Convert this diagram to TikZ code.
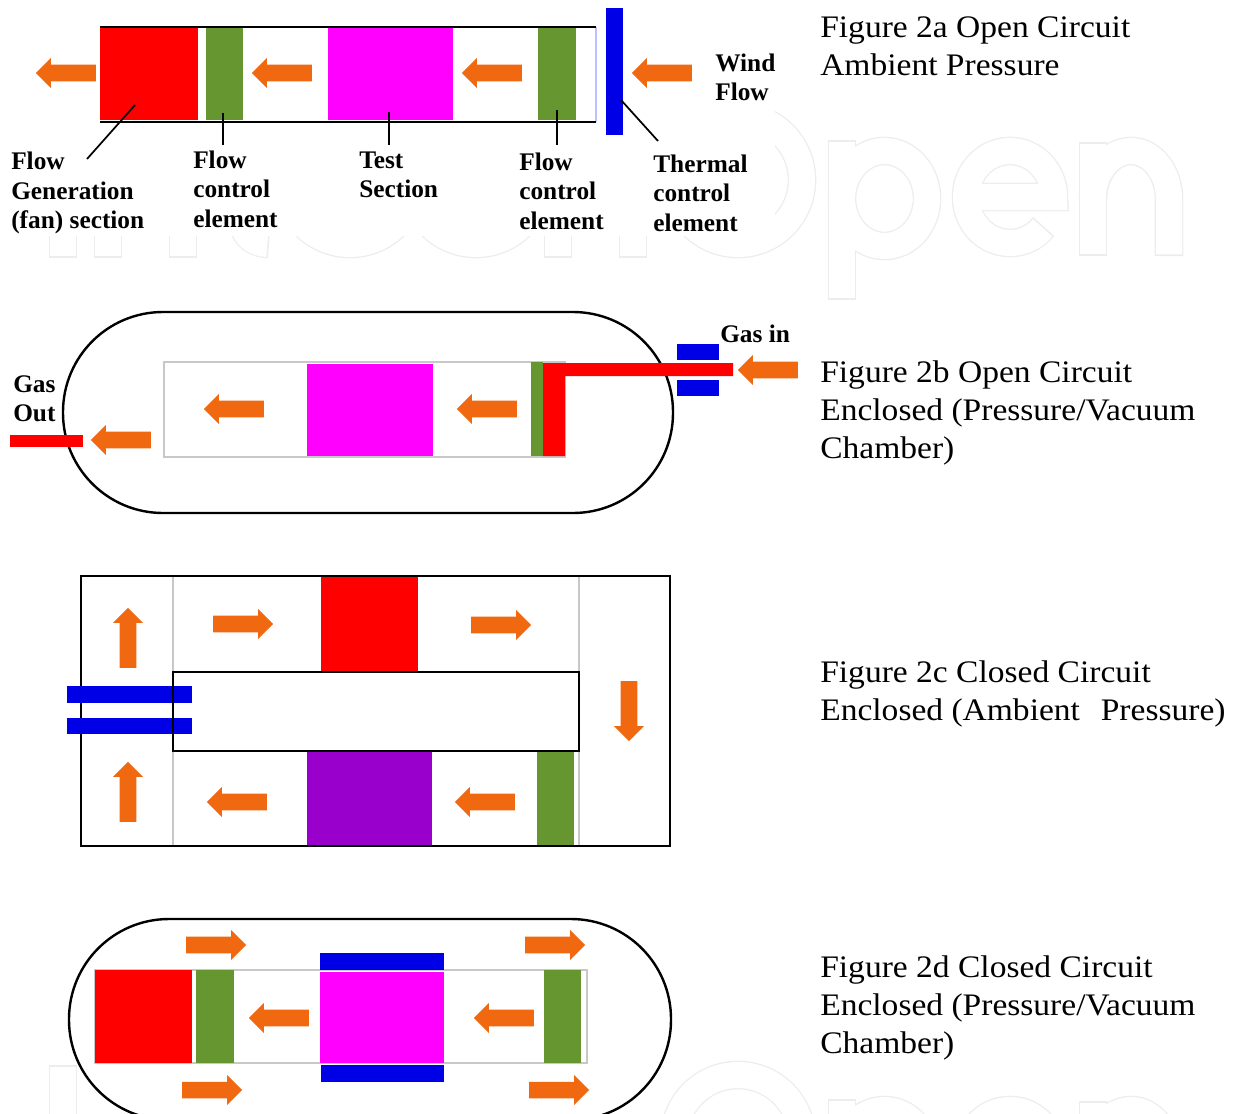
\documentclass[tikz,border=0pt]{standalone}
\usepackage{fontspec}
\setmainfont{Liberation Serif}
\newfontfamily\captionfont[FakeStretch=1.07]{Liberation Serif}
\usetikzlibrary{shapes.arrows}

\definecolor{flowcolor}{HTML}{F0680F}
\definecolor{greenblock}{HTML}{66962F}
\definecolor{blueblock}{HTML}{0000E6}
\definecolor{purpleblock}{HTML}{9900CC}
\definecolor{magentablock}{HTML}{FF00FF}
\definecolor{thinline}{HTML}{C8C8C8}
\definecolor{markcolor}{HTML}{EDEDED}

\tikzset{
    flow/.style={single arrow, fill=flowcolor, inner xsep=0pt, inner ysep=6pt, minimum height=45pt,
        minimum width=22pt, single arrow head extend=5pt, single arrow tip angle=90},
    flowleft/.style={flow, xshift=3pt, rotate=180},
    flowright/.style={flow, xshift=-3pt},
    flowup/.style={flow, yshift=-3pt, rotate=90},
    flowdown/.style={flow, yshift=3pt, rotate=-90},
    part/.style={font=\fontsize{19}{22}\selectfont\bfseries, align=left, anchor=west, inner sep=0pt},
    caption/.style={font=\captionfont\fontsize{23.5}{28.5}\selectfont, align=left, anchor=west, inner sep=0pt},
    wall/.style={black, line width=1.8pt},
    thin wall/.style={thinline, line width=1pt},
}

% one pass of the faint letters, shifted down by #1
\newcommand{\letterpass}[1]{
    \draw (63,258+#1) -- (63,106+#1);
    \draw (738,180+#1) circle (64);
    \draw (842,300+#1) -- (842,140+#1);
    \draw (884.5,198.5+#1) ellipse (42.5 and 47.5);
    \draw (966,197+#1) -- (1054,197+#1) arc (0:-180:44 and 46) arc (-180:-320:44 and 46);
    \draw (1093,256+#1) -- (1093,142+#1);
    \draw (1093,199+#1) arc (180:360:38 and 48) -- (1169,256+#1);
}
% the lower ends of the letters under the first panel
\newcommand{\letterends}{
    \draw (108,220) -- (108,258);
    \draw (183,220) -- (183,258);
    \draw (244,220) -- (244,225) arc (180:90:25 and 19);
    \draw (558,220) -- (558,258);
    \draw (633,220) -- (633,258);
    \draw (350,180) circle (64);
    \draw (476,180) circle (64);
}

\begin{document}
\begin{tikzpicture}[x=0.75pt, y=-0.75pt]
    \useasboundingbox (0,0) rectangle (1237,1113);
    \clip (0,0) rectangle (1237,1113);

    % watermark behind everything
    \begin{scope}[line width=21.5pt, markcolor]
        \letterpass{0}
        \letterpass{959}
        \letterends
    \end{scope}
    \begin{scope}[line width=19.5pt, white, shorten >=1.2pt, shorten <=1.2pt]
        \letterpass{0}
        \letterpass{959}
        \letterends
    \end{scope}
    \fill[white] (0,0) rectangle (775,236);

    % open circuit, ambient
    \fill[red] (100,28) rectangle (198,120);
    \fill[greenblock] (206,28) rectangle (243,120);
    \fill[magentablock] (328,28) rectangle (453,120);
    \fill[greenblock] (538,28) rectangle (576,120);
    \draw[thin wall, blue!25] (596,27) -- (596,122);
    \draw[wall] (100,27) -- (596,27);
    \draw[wall] (100,122) -- (596,122);
    \fill[blueblock] (606,8) rectangle (623,135);

    \node[flowleft] (arrowA) at (66,73) {};
    \node[flowleft] (arrowB) at (282,73) {};
    \node[flowleft] (arrowC) at (492,73) {};
    \node[flowleft] (arrowD) at (662,73) {};

    \coordinate (fanend) at (135,105);
    \coordinate (fanlabel) at (87,159);
    \coordinate (ctrlendA) at (223,113);
    \coordinate (ctrllabelA) at (223,145);
    \coordinate (testend) at (389,112);
    \coordinate (testlabel) at (389,145);
    \coordinate (ctrlendB) at (557,110);
    \coordinate (ctrllabelB) at (557,145);
    \coordinate (thermend) at (621,100);
    \coordinate (thermlabel) at (658,141);
    \draw[line width=1.3pt] (fanend) -- (fanlabel);
    \draw[line width=1.3pt] (ctrlendA) -- (ctrllabelA);
    \draw[line width=1.3pt] (testend) -- (testlabel);
    \draw[line width=1.3pt] (ctrlendB) -- (ctrllabelB);
    \draw[line width=1.3pt] (thermend) -- (thermlabel);

    \node[part] (fantext) at (11,193) {Flow\\Generation\\(fan) section};
    \node[part] (ctrltextA) at (193,189) {Flow\\control\\element};
    \node[part] (testtext) at (359,174.5) {Test\\Section};
    \node[part] (ctrltextB) at (519,191) {Flow\\control\\element};
    \node[part] (thermtext) at (653,193) {Thermal\\control\\element};
    \node[part] (windtext) at (715,77.5) {Wind\\Flow};

    % open circuit, enclosed
    \draw[wall, fill=white, rounded corners=75pt] (63,312) rectangle (673,513);
    \draw[thin wall] (164,362) rectangle (565,457);
    \fill[magentablock] (307,364) rectangle (433,456);
    \fill[greenblock] (531,362) rectangle (543,456);
    \fill[red] (543,363) -- (733,363) -- (733,376) -- (565,376) -- (565,456) -- (543,456) -- cycle;
    \fill[blueblock] (677,344) rectangle (719,360);
    \fill[blueblock] (677,380) rectangle (719,396);
    \fill[red] (10,435) rectangle (83,447);

    \node[flowleft] (arrowE) at (768,370) {};
    \node[flowleft] (arrowF) at (234,409) {};
    \node[flowleft] (arrowG) at (487,409) {};
    \node[flowleft] (arrowH) at (121,440) {};

    \node[part] (gasin) at (720,334) {Gas in};
    \node[part] (gasout) at (13,398.5) {Gas\\Out};

    % closed circuit, ambient
    \draw[thin wall] (173,576) -- (173,846);
    \draw[thin wall] (579,576) -- (579,846);
    \fill[red] (321,577) rectangle (418,671);
    \fill[purpleblock] (307,752) rectangle (432,845);
    \fill[greenblock] (537,752) rectangle (574,845);
    \draw[wall] (81,576) rectangle (670,846);
    \draw[wall, fill=white] (173,672) rectangle (579,751);
    \fill[blueblock] (67,686) rectangle (192,703);
    \fill[blueblock] (67,718) rectangle (192,734);
    \draw[black, line width=1.5pt] (173,672) -- (173,751);

    \node[flowup] (arrowI) at (128,638) {};
    \node[flowup] (arrowJ) at (128,792) {};
    \node[flowright] (arrowK) at (243,624) {};
    \node[flowright] (arrowL) at (501,625) {};
    \node[flowleft] (arrowM) at (237,802) {};
    \node[flowleft] (arrowN) at (485,802) {};
    \node[flowdown] (arrowO) at (629,711) {};

    % closed circuit, enclosed
    \draw[wall, fill=white, rounded corners=75pt] (69,919) rectangle (671,1120);
    \draw[thin wall] (95,970) rectangle (587,1063);
    \fill[red] (95,970) rectangle (192,1063);
    \fill[greenblock] (196,970) rectangle (234,1063);
    \fill[magentablock] (320,972) rectangle (444,1063);
    \fill[greenblock] (544,970) rectangle (581,1063);
    \fill[blueblock] (320,953) rectangle (444,970);
    \fill[blueblock] (321,1065) rectangle (444,1082);

    \node[flowright] (arrowP) at (216,945) {};
    \node[flowright] (arrowQ) at (555,945) {};
    \node[flowright] (arrowR) at (212,1090) {};
    \node[flowright] (arrowS) at (559,1090) {};
    \node[flowleft] (arrowT) at (279,1018) {};
    \node[flowleft] (arrowU) at (504,1018) {};

    % captions on the right
    \node[caption] (captionA) at (820,46.5) {Figure 2a Open Circuit\\Ambient Pressure};
    \node[caption] (captionB) at (820,412.5) {Figure 2b Open Circuit\\Enclosed (Pressure/Vacuum\\Chamber)};
    \node[caption] (captionC) at (820,694) {Figure 2c Closed Circuit\\Enclosed (Ambient\ \ \kern3pt Pressure)};
    \node[caption] (captionD) at (820,1007.5) {Figure 2d Closed Circuit\\Enclosed (Pressure/Vacuum\\Chamber)};
\end{tikzpicture}
\end{document}
